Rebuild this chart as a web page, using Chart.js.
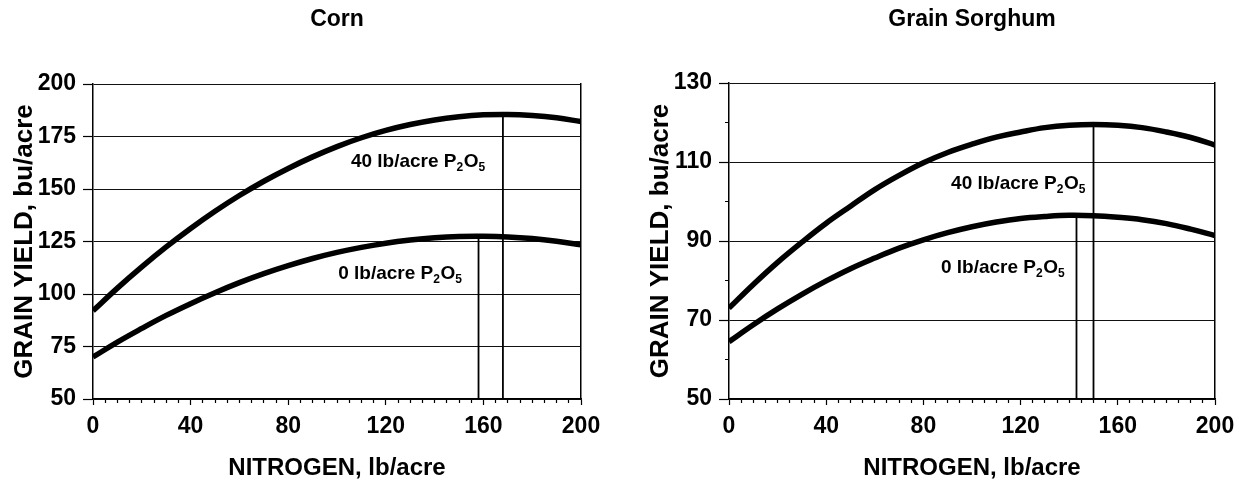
<!DOCTYPE html>
<html lang="en">
<head>
    <meta charset="UTF-8">
    <title>Grain yield response to nitrogen and phosphorus</title>
    <script src="https://cdn.jsdelivr.net/npm/chart.js"></script>
    <style>
        body { margin: 0; background: #fff; }
        .panel { position: absolute; top: 0; height: 486px; }
    </style>
</head>
<body>
    <div class="panel" style="left:0; width:623px;"><canvas id="cornChart" width="623" height="486"></canvas></div>
    <div class="panel" style="left:623px; width:624px;"><canvas id="sorghumChart" width="624" height="486"></canvas></div>

    <script>
        // nitrogen rate, lb/acre
        const nitrogen = [0, 10, 20, 30, 40, 50, 60, 70, 80, 90, 100, 110, 120, 130, 140, 150, 160, 170, 180, 190, 200];

        // corn yield, bu/acre
        const corn40 = [92.0, 102.8, 112.9, 122.4, 131.2, 139.4, 146.9, 153.7, 159.8, 165.3, 170.2, 174.4, 177.9, 180.7, 182.9, 184.4, 185.3, 185.5, 185.0, 183.9, 182.1];
        const corn0 = [70.0, 77.1, 83.6, 89.8, 95.4, 100.6, 105.4, 109.7, 113.5, 116.9, 119.8, 122.2, 124.2, 125.7, 126.8, 127.4, 127.5, 127.2, 126.4, 125.1, 123.4];

        // grain sorghum yield, bu/acre
        const sorghum40 = [73.0, 79.0, 84.6, 89.7, 94.5, 98.8, 103.0, 106.6, 109.8, 112.4, 114.5, 116.3, 117.6, 118.7, 119.3, 119.5, 119.3, 118.7, 117.6, 116.2, 114.3];
        const sorghum0 = [64.5, 68.8, 72.8, 76.5, 79.9, 83.0, 85.7, 88.2, 90.3, 92.1, 93.6, 94.8, 95.7, 96.2, 96.5, 96.4, 96.0, 95.4, 94.4, 93.0, 91.4];

        // optimum N rate and yield there (40 then 0 lb P2O5)
        const rates = ['40', '0'];
        const cornOptN = [168, 158];
        const cornOptYield = [185.5, 127.5];
        const sorghumOptN = [150, 143];
        const sorghumOptYield = [119.5, 96.5];

        // where the curve labels sit
        const cornLabelN = [105.7, 100.5];
        const cornLabelYield = [160.5, 107.0];
        const sorghumLabelN = [91.4, 87.2];
        const sorghumLabelYield = [103.1, 81.8];

        const xTicks = [0, 40, 80, 120, 160, 200];
        const cornYTicks = [50, 75, 100, 125, 150, 175, 200];
        const sorghumYTicks = [50, 70, 90, 110, 130];

        const FONT = '"Liberation Sans", Arial, Helvetica, sans-serif';
        Chart.defaults.font.family = FONT;
        Chart.defaults.color = '#000';

        // "40 lb/acre P2O5" with real subscripts
        const p2o5Labels = {
            id: 'p2o5Labels',
            afterDatasetsDraw(chart, args, opts) {
                const { ctx, scales: { x, y } } = chart;
                ctx.save();
                ctx.fillStyle = '#000';
                ctx.textBaseline = 'alphabetic';
                ctx.textAlign = 'left';
                opts.n.forEach((n, i) => {
                    let px = x.getPixelForValue(n);
                    const py = y.getPixelForValue(opts.y[i]);
                    const parts = [[rates[i] + ' lb/acre P', false], ['2', true], ['O', false], ['5', true]];
                    parts.forEach(([t, sub]) => {
                        ctx.font = sub ? 'bold 12px ' + FONT : 'bold 19px ' + FONT;
                        ctx.fillText(t, px, sub ? py + 4 : py);
                        px += ctx.measureText(t).width + (sub ? 0.5 : 0);
                    });
                });
                ctx.restore();
            }
        };

        function makeChart(cfg) {
            const datasets = [
                { data: nitrogen.map((n, i) => ({ x: n, y: cfg.high[i] })) },
                { data: nitrogen.map((n, i) => ({ x: n, y: cfg.low[i] })) }
            ].map(d => Object.assign(d, {
                borderColor: '#000', borderWidth: 5.5, pointRadius: 0, tension: 0.4, fill: false
            }));

            cfg.optN.forEach((n, i) => {
                datasets.push({
                    data: [{ x: n, y: cfg.yMin }, { x: n, y: cfg.optYield[i] }],
                    borderColor: '#000', borderWidth: 1.8, pointRadius: 0, tension: 0, fill: false
                });
            });

            return new Chart(document.getElementById(cfg.id).getContext('2d'), {
                type: 'line',
                data: { datasets: datasets },
                options: {
                    responsive: false,
                    animation: false,
                    devicePixelRatio: 1,
                    layout: { padding: { left: 0, right: cfg.padRight, top: 0, bottom: 0 } },
                    plugins: {
                        legend: { display: false },
                        tooltip: { enabled: false },
                        title: {
                            display: true,
                            text: cfg.title,
                            fullSize: false,
                            color: '#000',
                            font: { size: 23, weight: 'bold' },
                            padding: { top: 6, bottom: cfg.areaTop - 6 - 27.6 }
                        },
                        p2o5Labels: { n: cfg.labelN, y: cfg.labelY }
                    },
                    scales: {
                        x: {
                            type: 'linear',
                            min: 0,
                            max: 200,
                            afterFit: s => { s.height = 486 - 399; },
                            ticks: {
                                stepSize: 5,
                                autoSkip: false,
                                maxRotation: 0,
                                padding: 8,
                                color: '#000',
                                font: { size: 23, weight: 'bold' },
                                callback: v => xTicks.includes(v) ? v : ''
                            },
                            grid: {
                                drawOnChartArea: false,
                                tickLength: 6,
                                tickColor: '#000',
                                tickWidth: 1.2,
                                tickBorderDash: c => (c.tick && xTicks.includes(c.tick.value)) ? [] : [3.5, 100]
                            },
                            border: { color: '#000', width: 1.5 },
                            title: {
                                display: true,
                                text: 'NITROGEN, lb/acre',
                                color: '#000',
                                font: { size: 24, weight: 'bold' },
                                padding: { top: 0, bottom: 3.6 }
                            }
                        },
                        y: {
                            min: cfg.yMin,
                            max: cfg.yMax,
                            afterFit: s => { s.width = cfg.axisLeft; },
                            ticks: {
                                stepSize: cfg.yStep,
                                padding: 7,
                                color: '#000',
                                font: { size: 23, weight: 'bold' },
                                callback: v => cfg.yTicks.includes(v) ? v : ''
                            },
                            grid: {
                                lineWidth: 1,
                                tickLength: 10,
                                color: c => (c.tick && cfg.yTicks.includes(c.tick.value)) ? '#111' : 'transparent',
                                tickColor: '#000',
                                tickWidth: 1.2,
                                tickBorderDash: c => (c.tick && cfg.yTicks.includes(c.tick.value)) ? [] : [0, 6, 4, 100]
                            },
                            border: { color: '#000', width: 1.5 },
                            title: {
                                display: true,
                                text: 'GRAIN YIELD, bu/acre',
                                color: '#000',
                                font: { size: 26, weight: 'bold' },
                                padding: { top: cfg.yTitlePad, bottom: 0 }
                            }
                        },
                        // right-hand frame line
                        yFrame: {
                            position: 'right',
                            min: cfg.yMin,
                            max: cfg.yMax,
                            afterFit: s => { s.width = 0; },
                            ticks: { display: false },
                            grid: { drawOnChartArea: false, drawTicks: false },
                            border: { display: true, color: '#000', width: 1.5 }
                        }
                    }
                },
                plugins: [p2o5Labels]
            });
        }

        makeChart({
            id: 'cornChart', title: 'Corn',
            high: corn40, low: corn0,
            optN: cornOptN, optYield: cornOptYield,
            labelN: cornLabelN, labelY: cornLabelYield,
            yMin: 50, yMax: 200, yStep: 25, yTicks: cornYTicks,
            axisLeft: 93, padRight: 623 - 581, areaTop: 84, yTitlePad: 9.4
        });

        makeChart({
            id: 'sorghumChart', title: 'Grain Sorghum',
            high: sorghum40, low: sorghum0,
            optN: sorghumOptN, optYield: sorghumOptYield,
            labelN: sorghumLabelN, labelY: sorghumLabelYield,
            yMin: 50, yMax: 130, yStep: 10, yTicks: sorghumYTicks,
            axisLeft: 729 - 623, padRight: 624 - 1215 + 623, areaTop: 83, yTitlePad: 22.4
        });
    </script>
</body>
</html>
